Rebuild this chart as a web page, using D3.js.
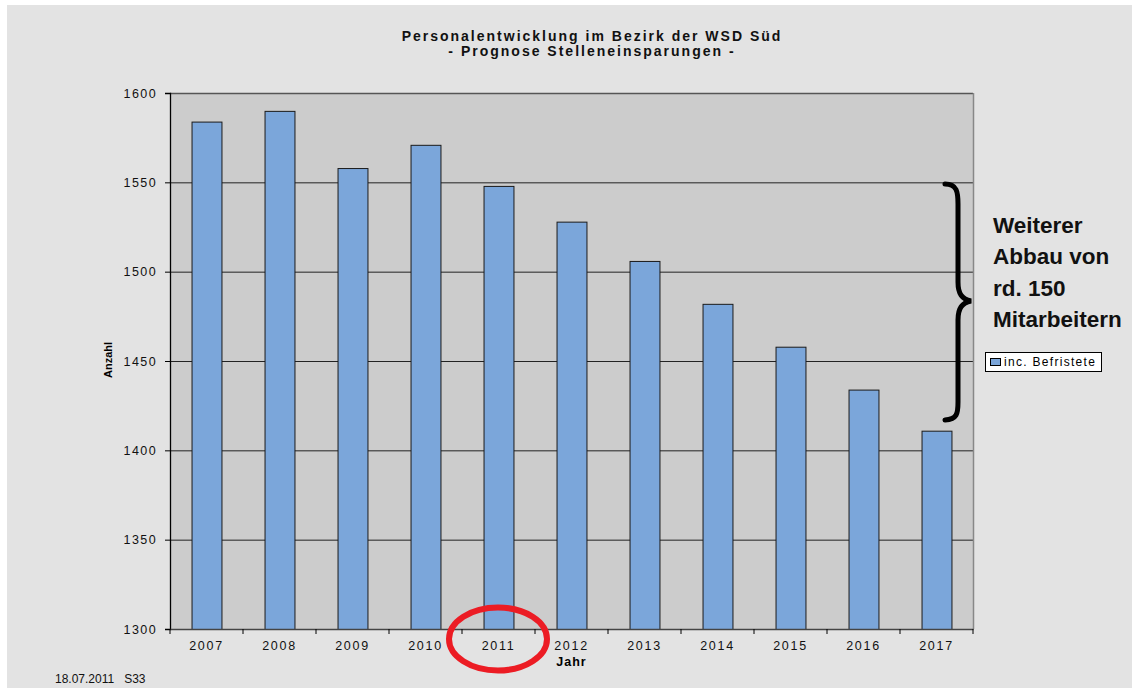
<!DOCTYPE html>
<html><head><meta charset="utf-8">
<script src="https://cdn.jsdelivr.net/npm/d3@7"></script>
<style>body{margin:0;background:#fff}svg{display:block}text{font-family:"Liberation Sans",Arial,sans-serif}</style>
</head><body>
<svg id="c" width="1132" height="688"></svg>
<script>
const years = ["2007","2008","2009","2010","2011","2012","2013","2014","2015","2016","2017"];
const values = [1584,1590,1558,1571,1548,1528,1506,1482,1458,1434,1411];
const yTicks = [1300,1350,1400,1450,1500,1550,1600];
const seriesName = "inc. Befristete";
const titleLines = ["Personalentwicklung im Bezirk der WSD Süd","- Prognose Stelleneinsparungen -"];
const noteLines = ["Weiterer","Abbau von","rd. 150","Mitarbeitern"];

const svg = d3.select("#c");
svg.append("rect").attr("x",7).attr("y",5).attr("width",1125).attr("height",683).attr("fill","#e3e3e3");

const L=170,R=973,T=93,B=629;
const x = d3.scaleBand().domain(years).range([L,R]).paddingInner(0.59).paddingOuter(0.295);
const y = d3.scaleLinear().domain([1300,1600]).range([B,T]);

svg.append("rect").attr("x",L).attr("y",T).attr("width",R-L).attr("height",B-T).attr("fill","#cccccc");
// gridlines
svg.append("g").selectAll("line").data(yTicks.filter(d=>d>1300&&d<1600)).join("line")
  .attr("x1",L).attr("x2",R).attr("y1",d=>y(d)+0.5).attr("y2",d=>y(d)+0.5).attr("stroke","#222").attr("stroke-width",1);
// border
svg.append("line").attr("x1",L).attr("x2",R).attr("y1",T+0.5).attr("y2",T+0.5).attr("stroke","#555").attr("stroke-width",1.5);
svg.append("line").attr("x1",R+0.5).attr("x2",R+0.5).attr("y1",T).attr("y2",B).attr("stroke","#888").attr("stroke-width",1.5);

// bars
svg.append("g").selectAll("rect").data(values).join("rect")
  .attr("x",(d,i)=>x(years[i])+0.5).attr("y",d=>y(d)+0.5)
  .attr("width",x.bandwidth()).attr("height",d=>B-y(d))
  .attr("fill","#7ba6da").attr("stroke","#1a1a1a").attr("stroke-width",1);

// y axis
const ya = svg.append("g").attr("transform",`translate(${L},0)`)
  .call(d3.axisLeft(y).tickValues(yTicks).tickSize(5).tickPadding(8).tickFormat(d3.format("d")));
ya.select(".domain").attr("stroke","#000").attr("stroke-width",1.3);
ya.selectAll(".tick line").attr("stroke","#000");
ya.selectAll("text").attr("font-size",12.5).attr("letter-spacing","1.4px").attr("fill","#111");

// x axis
const xa = svg.append("g").attr("transform",`translate(0,${B})`)
  .call(d3.axisBottom(x).tickSize(0).tickPadding(12));
xa.select(".domain").attr("stroke","#444").attr("stroke-width",1.3);
xa.selectAll("text").attr("font-size",12.5).attr("letter-spacing","1.7px").attr("fill","#111");
// x ticks at band boundaries
const bounds = years.map(d=>x(d)-x.step()*x.paddingInner()/2).concat([R]);
svg.append("g").selectAll("line").data(bounds).join("line")
  .attr("x1",d=>d).attr("x2",d=>d).attr("y1",B).attr("y2",B+5).attr("stroke","#000");

// title
svg.append("g").selectAll("text").data(titleLines).join("text")
  .attr("x",592).attr("y",(d,i)=>41+i*15).attr("text-anchor","middle")
  .attr("font-size",14).attr("font-weight","bold").attr("letter-spacing","2px").attr("fill","#111").text(d=>d);

// axis titles
svg.append("text").attr("x",(L+R)/2).attr("y",666).attr("text-anchor","middle").attr("font-size",12.5)
  .attr("font-weight","bold").attr("letter-spacing","1px").text("Jahr");
svg.append("text").attr("transform","translate(112,360) rotate(-90)").attr("text-anchor","middle")
  .attr("font-size",11).attr("font-weight","bold").text("Anzahl");

// footer
svg.append("text").attr("x",55).attr("y",683).attr("font-size",12).attr("fill","#111")
  .attr("xml:space","preserve").style("white-space","pre").text("18.07.2011   S33");

// legend
const lg = svg.append("g").attr("transform","translate(985,352)");
lg.append("rect").attr("x",0.5).attr("y",0.5).attr("width",116).attr("height",19).attr("fill","#fff").attr("stroke","#000");
lg.append("rect").attr("x",5.5).attr("y",6.5).attr("width",10).attr("height",7).attr("fill","#7ba6da").attr("stroke","#000");
lg.append("text").attr("x",19).attr("y",14).attr("font-size",12).attr("letter-spacing","1.3px").text(seriesName);

// brace
svg.append("path")
  .attr("d","M945,184 C957,184 958,192 958,204 L958,282 C958,294 962,299 971,301 C962,303 958,308 958,320 L958,402 C958,414 957,419 945,420")
  .attr("fill","none").attr("stroke","#000").attr("stroke-width",5).attr("stroke-linecap","round");

// annotation
svg.append("g").selectAll("text").data(noteLines).join("text")
  .attr("x",993).attr("y",(d,i)=>233+i*31.3).attr("font-size",22.5).attr("font-weight","bold").attr("fill","#111").text(d=>d);

// red ellipse
svg.append("ellipse").attr("cx",x("2011")+x.bandwidth()/2-0.5).attr("cy",639).attr("rx",49).attr("ry",31.5)
  .attr("fill","none").attr("stroke","#ec1c24").attr("stroke-width",6);
</script>
</body></html>
